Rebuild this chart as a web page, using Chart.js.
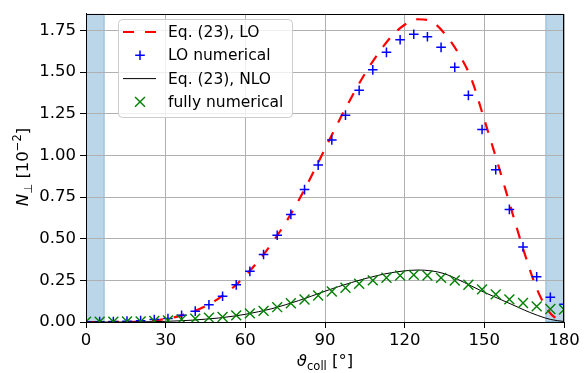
<!DOCTYPE html>
<html>
<head>
<meta charset="utf-8">
<script src="https://cdn.jsdelivr.net/npm/chart.js@4.4.1/dist/chart.umd.min.js"></script>
<style>
  html, body { margin: 0; padding: 0; background: #fff; }
</style>
</head>
<body>
<canvas id="chart" width="587" height="373"></canvas>
<script>
// Values.
const thetaNumerical = [0, 5.14, 10.29, 15.43, 20.57, 25.71, 30.86, 36.00, 41.14, 46.29, 51.43, 56.57,
                        61.71, 66.86, 72.00, 77.14, 82.29, 87.43, 92.57, 97.71, 102.86, 108.00, 113.14, 118.29,
                        123.43, 128.57, 133.71, 138.86, 144.00, 149.14, 154.29, 159.43, 164.57, 169.71, 174.86, 180.00];
const loNumerical = [0.001, 0.002, 0.003, 0.005, 0.008, 0.015, 0.021, 0.040, 0.065, 0.104, 0.155, 0.223,
                     0.304, 0.405, 0.521, 0.646, 0.795, 0.942, 1.093, 1.242, 1.391, 1.514, 1.619, 1.695,
                     1.728, 1.713, 1.649, 1.530, 1.361, 1.156, 0.914, 0.676, 0.451, 0.272, 0.149, 0.107];
const fullyNumerical = [0.002, 0.002, 0.002, 0.003, 0.004, 0.006, 0.010, 0.016, 0.020, 0.026, 0.030, 0.040,
                        0.052, 0.067, 0.089, 0.113, 0.135, 0.159, 0.183, 0.206, 0.230, 0.250, 0.266, 0.279,
                        0.283, 0.279, 0.265, 0.249, 0.224, 0.196, 0.166, 0.136, 0.114, 0.094, 0.078, 0.075];

const thetaCurve = [0, 5, 10, 15, 20, 25, 30, 35, 40, 45, 50, 55, 60, 65, 70, 75, 80, 85, 90,
                    95, 100, 105, 110, 115, 120, 125, 130, 135, 140, 145, 150, 155, 160, 165, 170, 175, 180];
const loAnalytic = [0.000, 0.000, 0.000, 0.001, 0.003, 0.008, 0.018, 0.035, 0.060, 0.095, 0.142, 0.202,
                    0.278, 0.368, 0.473, 0.592, 0.728, 0.880, 1.040, 1.200, 1.350, 1.490, 1.612, 1.715,
                    1.785, 1.818, 1.805, 1.733, 1.620, 1.465, 1.215, 0.955, 0.685, 0.420, 0.190, 0.050, 0.000];
const nloAnalytic = [0.000, 0.000, 0.000, 0.000, 0.001, 0.002, 0.004, 0.007, 0.011, 0.017, 0.024, 0.034,
                     0.046, 0.062, 0.080, 0.103, 0.128, 0.156, 0.185, 0.212, 0.237, 0.260, 0.280, 0.296,
                     0.307, 0.312, 0.307, 0.290, 0.256, 0.217, 0.178, 0.143, 0.108, 0.072, 0.040, 0.015, 0.003];

const xTicks = [0, 30, 60, 90, 120, 150, 180];
const yTicks = [0, 0.25, 0.5, 0.75, 1.0, 1.25, 1.5, 1.75];
const shadedBands = [[0, 7], [173, 180]];
const seriesLabels = ['Eq. (23), LO', 'LO numerical', 'Eq. (23), NLO', 'fully numerical'];

const FONT = "'DejaVu Sans', sans-serif";
const GRID = '#b0b0b0';
const BAND_FILL = 'rgba(31, 119, 180, 0.3)';

const pts = (xs, ys) => xs.map((x, i) => ({ x, y: ys[i] }));

function drawMarker(ctx, style, x, y, r) {
    ctx.beginPath();
    if (style === 'cross') {
        ctx.moveTo(x - r, y); ctx.lineTo(x + r, y);
        ctx.moveTo(x, y - r); ctx.lineTo(x, y + r);
    } else {
        const d = r * Math.SQRT1_2;
        ctx.moveTo(x - d, y - d); ctx.lineTo(x + d, y + d);
        ctx.moveTo(x - d, y + d); ctx.lineTo(x + d, y - d);
    }
    ctx.stroke();
}

// draws a list of text runs (with sub/superscripts) centred on 0,0
function drawRuns(ctx, runs) {
    let w = 0;
    runs.forEach(r => { ctx.font = r.font; r.w = ctx.measureText(r.t).width; w += r.w; });
    let x = -w / 2;
    ctx.textBaseline = 'alphabetic';
    ctx.textAlign = 'left';
    runs.forEach(r => { ctx.font = r.font; ctx.fillText(r.t, x, r.dy || 0); x += r.w; });
}

const bandsPlugin = {
    id: 'bands',
    beforeDraw(chart) {
        const { ctx, chartArea: a, scales: { x } } = chart;
        ctx.save();
        ctx.fillStyle = BAND_FILL;
        ctx.strokeStyle = BAND_FILL;
        ctx.lineWidth = 1;
        shadedBands.forEach(([lo, hi]) => {
            const x0 = x.getPixelForValue(lo), x1 = x.getPixelForValue(hi);
            ctx.fillRect(x0, a.top, x1 - x0, a.bottom - a.top);
            ctx.strokeRect(x0 + 0.5, a.top + 0.5, x1 - x0 - 1, a.bottom - a.top - 1);
        });
        ctx.restore();
    }
};

const framePlugin = {
    id: 'frame',
    afterDatasetsDraw(chart) {
        const { ctx, chartArea: a } = chart;
        ctx.save();
        ctx.strokeStyle = '#000';
        ctx.lineWidth = 1;
        ctx.strokeRect(Math.round(a.left) + 0.5, Math.round(a.top) + 0.5,
                       Math.round(a.right - a.left) - 1, Math.round(a.bottom - a.top));
        ctx.restore();
    }
};

const legendPlugin = {
    id: 'boxLegend',
    afterDraw(chart) {
        const ctx = chart.ctx;
        const bx = 118, by = 19, bw = 174, bh = 98;
        ctx.save();
        ctx.fillStyle = 'rgba(255,255,255,0.8)';
        ctx.strokeStyle = '#cccccc';
        ctx.lineWidth = 1;
        ctx.beginPath();
        ctx.roundRect(bx + 0.5, by + 0.5, bw, bh, 4);
        ctx.fill();
        ctx.stroke();
        ctx.font = '15.5px ' + FONT;
        ctx.textBaseline = 'middle';
        chart.data.datasets.forEach((ds, i) => {
            const y = 32 + i * 23.3;
            ctx.strokeStyle = ds.borderColor;
            ctx.lineWidth = ds.borderWidth;
            if (ds.showLine === false) {
                drawMarker(ctx, ds.pointStyle, 140, y, ds.pointRadius);
            } else {
                ctx.setLineDash(ds.borderDash || []);
                ctx.beginPath();
                ctx.moveTo(123, y); ctx.lineTo(156, y);
                ctx.stroke();
                ctx.setLineDash([]);
            }
            ctx.fillStyle = '#000';
            ctx.fillText(ds.label, 168, y + 1);
        });
        ctx.restore();
    }
};

const titlesPlugin = {
    id: 'axisTitles',
    afterDraw(chart) {
        const ctx = chart.ctx;
        const big = '16.5px ' + FONT, small = '11.5px ' + FONT;
        ctx.save();
        ctx.fillStyle = '#000';
        ctx.translate(325, 366);
        drawRuns(ctx, [
            { t: 'ϑ', font: 'italic ' + big },
            { t: 'coll', font: small, dy: 3.5 },
            { t: ' [°]', font: big }
        ]);
        ctx.restore();
        ctx.save();
        ctx.fillStyle = '#000';
        ctx.translate(28, 167);
        ctx.rotate(-Math.PI / 2);
        drawRuns(ctx, [
            { t: 'N', font: 'italic ' + big },
            { t: '⊥', font: small, dy: 3.5 },
            { t: ' [10', font: big },
            { t: '−2', font: small, dy: -7 },
            { t: ']', font: big }
        ]);
        ctx.restore();
    }
};

new Chart(document.getElementById('chart'), {
    type: 'line',
    data: {
        datasets: [
            { label: seriesLabels[0], data: pts(thetaCurve, loAnalytic), borderColor: '#ff0000', borderWidth: 2.2,
              borderDash: [11, 11], pointRadius: 0, cubicInterpolationMode: 'monotone', clip: 0, order: 4 },
            { label: seriesLabels[1], data: pts(thetaNumerical, loNumerical), showLine: false, pointStyle: 'cross',
              pointRadius: 4.8, borderColor: '#0000ff', borderWidth: 1.5, backgroundColor: 'rgba(0,0,0,0)', clip: 0, order: 3 },
            { label: seriesLabels[2], data: pts(thetaCurve, nloAnalytic), borderColor: '#000000', borderWidth: 1,
              pointRadius: 0, cubicInterpolationMode: 'monotone', clip: 0, order: 2 },
            { label: seriesLabels[3], data: pts(thetaNumerical, fullyNumerical), showLine: false, pointStyle: 'crossRot',
              pointRadius: 7, borderColor: '#008000', borderWidth: 1.4, backgroundColor: 'rgba(0,0,0,0)', clip: 0, order: 1 }
        ]
    },
    options: {
        responsive: false,
        animation: false,
        devicePixelRatio: 1,
        layout: { padding: { left: 0, right: 23, top: 12, bottom: 0 } },
        plugins: { legend: { display: false }, tooltip: { enabled: false } },
        elements: { point: { hoverRadius: 0 } },
        scales: {
            x: {
                type: 'linear', min: 0, max: 180,
                afterBuildTicks: s => { s.ticks = xTicks.map(v => ({ value: v })); },
                afterFit: s => { s.height = 51; },
                grid: { color: GRID, lineWidth: 1, tickColor: '#000', tickLength: 6, tickWidth: 1 },
                border: { color: '#000', width: 1 },
                ticks: { color: '#000', padding: 3, maxRotation: 0, font: { family: FONT, size: 16.5 },
                         callback: v => String(v) }
            },
            y: {
                type: 'linear', min: 0, max: 1.85,
                afterBuildTicks: s => { s.ticks = yTicks.map(v => ({ value: v })); },
                afterFit: s => { s.width = 86; },
                grid: { color: GRID, lineWidth: 1, tickColor: '#000', tickLength: 6, tickWidth: 1 },
                border: { color: '#000', width: 1 },
                ticks: { color: '#000', padding: 4, font: { family: FONT, size: 16.5 },
                         callback: v => v.toFixed(2) }
            }
        }
    },
    plugins: [bandsPlugin, framePlugin, legendPlugin, titlesPlugin]
});
</script>
</body>
</html>
